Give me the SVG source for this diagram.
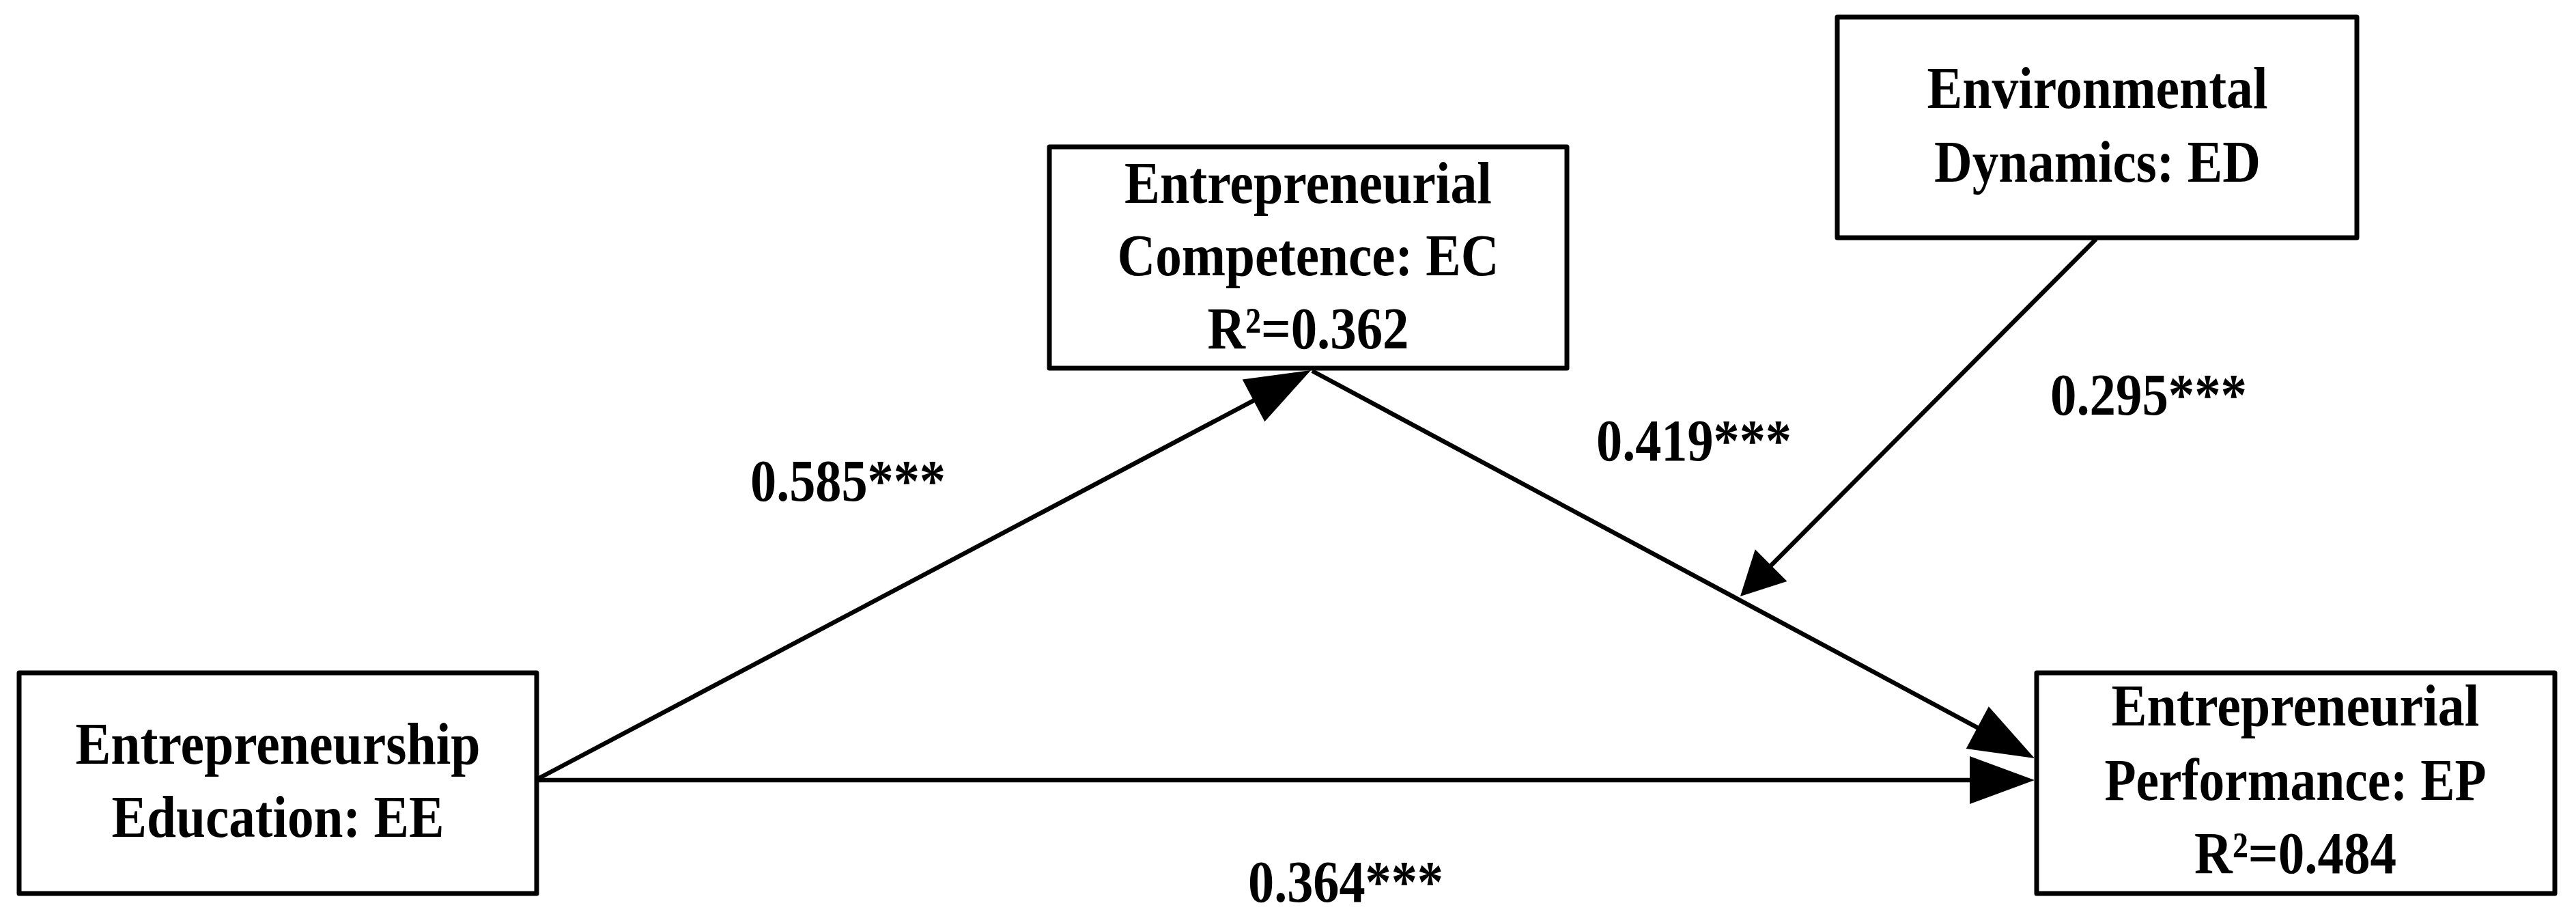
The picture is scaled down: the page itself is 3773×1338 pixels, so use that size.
<svg xmlns="http://www.w3.org/2000/svg" width="3773" height="1338" viewBox="0 0 3773 1338">
<style>
.box{fill:#fff;stroke:#000;stroke-width:7;stroke-linejoin:round}
.t{font-family:"Liberation Serif","Times New Roman",serif;font-weight:bold;font-size:87px;fill:#000}
.c{text-anchor:middle}
.edge{fill:none;stroke:#000;stroke-width:6.5}
</style>
<defs>
<marker id="ah" markerUnits="userSpaceOnUse" markerWidth="95" markerHeight="70" refX="45" refY="35" orient="auto" overflow="visible">
<path d="M0,0 L95,35 L0,70 Z" fill="#000"/>
</marker>
<marker id="ahs" markerUnits="userSpaceOnUse" markerWidth="66" markerHeight="66" refX="34" refY="33" orient="auto" overflow="visible">
<path d="M0,0 L64,33 L0,66 Z" fill="#000"/>
</marker>
</defs>
<rect width="3773" height="1338" fill="#fff"/>
<g id="connectors">
<line class="edge" x1="786" y1="1141" x2="1875.8" y2="565.4" marker-end="url(#ah)"/>
<line class="edge" x1="1922" y1="543" x2="2935.9" y2="1086.4" marker-end="url(#ah)"/>
<line class="edge" x1="786" y1="1142" x2="2930" y2="1142" marker-end="url(#ah)"/>
<line class="edge" x1="3070" y1="350" x2="2570.1" y2="851.7" marker-end="url(#ahs)"/>
</g>
<g id="EE">
<rect class="box" x="28" y="985" width="758" height="323"/>
<text class="t c" x="407" y="1118" textLength="593" lengthAdjust="spacingAndGlyphs">Entrepreneurship</text>
<text class="t c" x="407" y="1225" textLength="487" lengthAdjust="spacingAndGlyphs">Education: EE</text>
</g>
<g id="EC">
<rect class="box" x="1537" y="215" width="758" height="324"/>
<text class="t c" x="1916" y="297" textLength="538" lengthAdjust="spacingAndGlyphs">Entrepreneurial</text>
<text class="t c" x="1916" y="403" textLength="559" lengthAdjust="spacingAndGlyphs">Competence: EC</text>
<text class="t c" x="1916" y="510" textLength="295" lengthAdjust="spacingAndGlyphs">R²=0.362</text>
</g>
<g id="ED">
<rect class="box" x="2691" y="25" width="761" height="323"/>
<text class="t c" x="3072" y="158" textLength="499" lengthAdjust="spacingAndGlyphs">Environmental</text>
<text class="t c" x="3072" y="266" textLength="478" lengthAdjust="spacingAndGlyphs">Dynamics: ED</text>
</g>
<g id="EP">
<rect class="box" x="2983" y="985" width="759" height="323"/>
<text class="t c" x="3362" y="1062" textLength="539" lengthAdjust="spacingAndGlyphs">Entrepreneurial</text>
<text class="t c" x="3362" y="1171" textLength="559" lengthAdjust="spacingAndGlyphs">Performance: EP</text>
<text class="t c" x="3362" y="1278" textLength="296" lengthAdjust="spacingAndGlyphs">R²=0.484</text>
</g>
<g id="labels">
<text class="t" x="1099" y="733" textLength="286" lengthAdjust="spacingAndGlyphs">0.585***</text>
<text class="t" x="2338" y="674" textLength="286" lengthAdjust="spacingAndGlyphs">0.419***</text>
<text class="t" x="3003" y="607" textLength="288" lengthAdjust="spacingAndGlyphs">0.295***</text>
<text class="t" x="1828" y="1320" textLength="286" lengthAdjust="spacingAndGlyphs">0.364***</text>
</g>
</svg>
